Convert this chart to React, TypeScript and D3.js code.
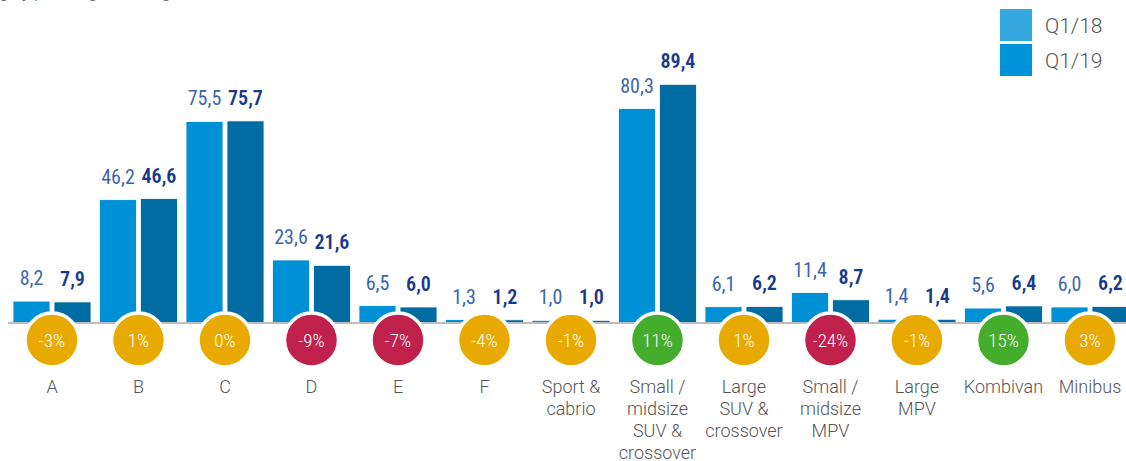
import React from "react";
import * as d3 from "d3";

const categories: string[][] = [
  ["A"], ["B"], ["C"], ["D"], ["E"], ["F"],
  ["Sport &", "cabrio"],
  ["Small /", "midsize", "SUV &", "crossover"],
  ["Large", "SUV &", "crossover"],
  ["Small /", "midsize", "MPV"],
  ["Large", "MPV"],
  ["Kombivan"],
  ["Minibus"],
];
const q118: number[] = [8.2, 46.2, 75.5, 23.6, 6.5, 1.3, 1.0, 80.3, 6.1, 11.4, 1.4, 5.6, 6.0];
const q119: number[] = [7.9, 46.6, 75.7, 21.6, 6.0, 1.2, 1.0, 89.4, 6.2, 8.7, 1.4, 6.4, 6.2];
const changes: number[] = [-3, 1, 0, -9, -7, -4, -1, 11, 1, -24, -1, 15, 3];
const seriesNames: string[] = ["Q1/18", "Q1/19"];

const W = 1126;
const H = 461;
const BASE = 323;

const fmt = (v: number) => v.toFixed(1).replace(".", ",");

export default function App() {
  const idx = categories.map((_, i) => String(i));
  const x0 = d3.scaleBand<string>().domain(idx).range([8.75, 1133.25]).paddingInner(0).paddingOuter(0);
  const x1 = d3
    .scaleBand<string>()
    .domain(seriesNames)
    .range([4.25, x0.bandwidth() - 4.25])
    .paddingInner(0.0976);
  const y = d3.scaleLinear().domain([0, 100]).range([BASE, BASE - 267]);

  const barColors = ["#0090D6", "#006CA2"];
  const legendColors = ["#35A8E2", "#0093D9"];
  const valColors = ["#3D65AE", "#173A8C"];
  const valWeights = [400, 600];
  const circleColor = (c: number) => (c <= -5 ? "#BF204C" : c >= 5 ? "#44AD2B" : "#E8AA00");
  const series = [q118, q119];
  const numFont = "'Liberation Sans Narrow', 'Roboto Condensed', 'Roboto', sans-serif";
  const txtFont = "Roboto, 'Open Sans', sans-serif";

  return (
    <svg width={W} height={H} style={{ position: "absolute", left: 0, top: 0, background: "#fff" }}>
      <text x={-14} y={-2} fontFamily={txtFont} fontWeight={300} fontSize={17} fill="#555">
        ing by passenger car segment
      </text>
      {categories.map((_, i) =>
        series.map((vals, s) => {
          const bx = (x0(String(i)) as number) + (x1(seriesNames[s]) as number);
          const by = y(vals[i]);
          return (
            <g key={`b${i}-${s}`}>
              <rect
                x={bx}
                y={by}
                width={x1.bandwidth()}
                height={BASE - by}
                fill={barColors[s]}
                stroke="#fff"
                strokeWidth={0.8}
              />
              <text
                x={bx + x1.bandwidth() / 2}
                y={by - 16}
                textAnchor="middle"
                fontFamily={numFont}
                fontSize={20}
                fontWeight={valWeights[s]}
                fill={valColors[s]}
              >
                {fmt(vals[i])}
              </text>
            </g>
          );
        })
      )}
      <line x1={8} x2={W} y1={BASE} y2={BASE} stroke="#BDBDBD" strokeWidth={2} />
      {categories.map((lines, i) => {
        const cx = (x0(String(i)) as number) + x0.bandwidth() / 2;
        const c = changes[i];
        return (
          <g key={`c${i}`}>
            <circle cx={cx} cy={340} r={27} fill={circleColor(c)} stroke="#fff" strokeWidth={3.5} />
            <text
              x={cx}
              y={347}
              textAnchor="middle"
              fontFamily={numFont}
              fontSize={19}
              fontWeight={300}
              fill="#fff"
            >
              {`${c}%`}
            </text>
            <text textAnchor="middle" fontFamily={txtFont} fontWeight={300} fontSize={18} fill="#555">
              {lines.map((l, k) => (
                <tspan key={k} x={cx} y={393 + k * 22}>
                  {l}
                </tspan>
              ))}
            </text>
          </g>
        );
      })}
      {seriesNames.map((n, s) => (
        <g key={`l${s}`}>
          <rect x={1000} y={9 + s * 35} width={32} height={32} fill={legendColors[s]} />
          <text x={1045} y={33 + s * 35} fontFamily={txtFont} fontWeight={300} fontSize={21} fill="#555">
            {n}
          </text>
        </g>
      ))}
    </svg>
  );
}
